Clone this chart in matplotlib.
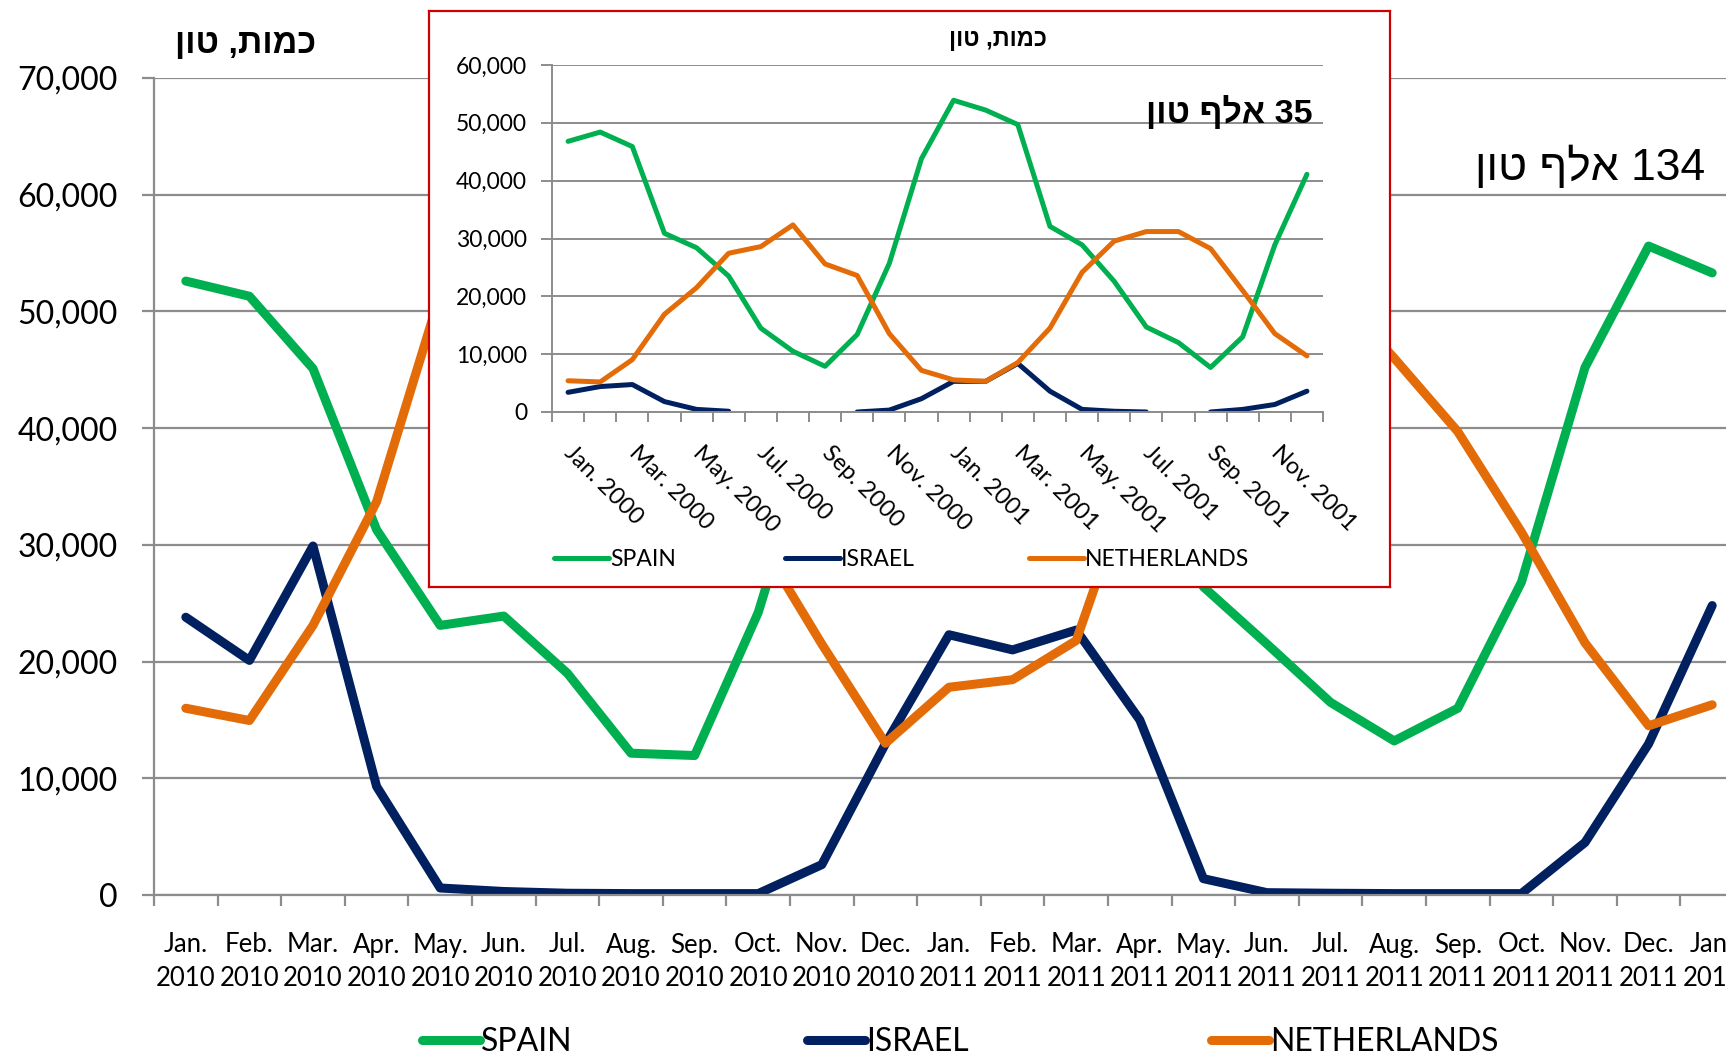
import numpy as np
import matplotlib
matplotlib.use("Agg")
import matplotlib.pyplot as plt
from matplotlib import font_manager
from matplotlib.ticker import StrMethodFormatter, FixedLocator

# ---------------- data ----------------
main_months = ["Jan.\n2010", "Feb.\n2010", "Mar.\n2010", "Apr.\n2010", "May.\n2010", "Jun.\n2010",
               "Jul.\n2010", "Aug.\n2010", "Sep.\n2010", "Oct.\n2010", "Nov.\n2010", "Dec.\n2010",
               "Jan.\n2011", "Feb.\n2011", "Mar.\n2011", "Apr.\n2011", "May.\n2011", "Jun.\n2011",
               "Jul.\n2011", "Aug.\n2011", "Sep.\n2011", "Oct.\n2011", "Nov.\n2011", "Dec.\n2011",
               "Jan.\n2012"]
main_spain = [52600, 51300, 45100, 31300, 23100, 23900, 19000, 12150, 11950, 24200, 42000, 54000,
              60000, 59000, 52000, 36000, 26400, 21500, 16500, 13200, 16000, 26800, 45200, 55600, 53300]
main_israel = [23800, 20100, 29900, 9300, 600, 300, 150, 120, 120, 120, 2600, 12950,
               22300, 21000, 22700, 15000, 1400, 200, 150, 120, 120, 120, 4500, 12950, 24800]
main_netherlands = [16000, 14950, 23100, 33700, 51500, 55000, 57000, 52000, 45000, 30500, 21500, 13000,
                    17800, 18450, 21800, 37500, 50000, 55000, 52000, 46000, 39700, 31100, 21600, 14500, 16300]

inset_months = ["Jan. 2000", "Feb. 2000", "Mar. 2000", "Apr. 2000", "May. 2000", "Jun. 2000",
                "Jul. 2000", "Aug. 2000", "Sep. 2000", "Oct. 2000", "Nov. 2000", "Dec. 2000",
                "Jan. 2001", "Feb. 2001", "Mar. 2001", "Apr. 2001", "May. 2001", "Jun. 2001",
                "Jul. 2001", "Aug. 2001", "Sep. 2001", "Oct. 2001", "Nov. 2001", "Dec. 2001"]
inset_spain = [46800, 48400, 45900, 30900, 28400, 23500, 14500, 10500, 7900, 13400, 25700, 43800,
               53900, 52200, 49700, 32100, 28900, 22600, 14700, 12000, 7700, 13000, 28900, 41100]
inset_israel = [3400, 4400, 4750, 1800, 450, 130, np.nan, np.nan, np.nan, 0, 330, 2300,
                5300, 5300, 8400, 3600, 450, 130, 0, np.nan, 0, 450, 1300, 3600]
inset_netherlands = [5400, 5200, 9050, 16900, 21500, 27450, 28600, 32350, 25600, 23600, 13550, 7200,
                     5550, 5300, 8550, 14500, 24150, 29550, 31200, 31200, 28250, 21000, 13550, 9700]

series_names = ["SPAIN", "ISRAEL", "NETHERLANDS"]
colors = ["#00B050", "#002060", "#E36C09"]

main_title = "ןוט ,תומכ"          # "כמות, טון" in visual order
main_note = "ןוט ףלא 134"         # "134 אלף טון"
inset_title = "ןוט ,תומכ"
inset_note = "ןוט ףלא 35"         # "35 אלף טון"

# ---------------- fonts ----------------
avail = {f.name for f in font_manager.fontManager.ttflist}
def pick(*names):
    for n in names:
        if n in avail:
            return n
    return "DejaVu Sans"
F_MAIN = pick("Lato", "Open Sans", "Liberation Sans")
F_NARROW = pick("Liberation Sans Narrow", "Lato", "Liberation Sans")
HEB = [pick("Liberation Sans", "DejaVu Sans"), "DejaVu Sans"]

W, H = 1726, 1055
fig = plt.figure(figsize=(W / 100, H / 100), dpi=100)
fig.patch.set_facecolor("white")

def fx(px):
    return px / W
def fy(py):
    return 1 - py / H

GRID = "#8C8C8C"

# ---------------- main axes ----------------
left, right, top, bottom = 154, 154 + 25 * 63.6, 78, 895
ax = fig.add_axes([fx(left), fy(bottom), fx(right - left), (bottom - top) / H], zorder=1)
x_main = np.arange(len(main_months))
for vals, c in zip([main_spain, main_israel, main_netherlands], colors):
    ax.plot(x_main, vals, color=c, lw=6.5, solid_joinstyle="round", solid_capstyle="round")
ax.set_xlim(-0.5, len(main_months) - 0.5)
ax.set_ylim(0, 70000)
ax.set_yticks(np.arange(0, 70001, 10000))
ax.yaxis.set_major_formatter(StrMethodFormatter("{x:,.0f}"))
ax.grid(axis="y", color=GRID, lw=1.6)
ax.set_axisbelow(True)
for s in ["top", "right"]:
    ax.spines[s].set_visible(False)
for s in ["left", "bottom"]:
    ax.spines[s].set_color(GRID)
    ax.spines[s].set_linewidth(1.6)
ax.xaxis.set_major_locator(FixedLocator(np.arange(-0.5, len(main_months), 1.0)))
ax.xaxis.set_minor_locator(FixedLocator(x_main))
ax.set_xticklabels([], minor=False)
ax.set_xticklabels(main_months, minor=True, fontfamily=F_MAIN, fontsize=18.5, linespacing=1.45)
ax.tick_params(axis="x", which="major", length=8, width=1.6, color=GRID)
ax.tick_params(axis="x", which="minor", length=0, pad=27)
ax.tick_params(axis="y", length=9, width=1.6, color=GRID, pad=17)
for t in ax.get_yticklabels():
    t.set_fontfamily(F_MAIN)
    t.set_fontsize(23)

fig.text(fx(175), fy(53), main_title, family=HEB, fontsize=24.5, fontweight="bold",
         ha="left", va="baseline")
fig.text(fx(1705), fy(180), main_note, family=HEB, fontsize=32, ha="right", va="baseline")

# main legends
main_lines = ax.get_lines()
for ln, name, xs in zip(main_lines, series_names, [422, 807, 1211]):
    lg = fig.legend([ln], [name], loc="center left", bbox_to_anchor=(fx(xs), fy(1042)),
                    frameon=False, borderpad=0, borderaxespad=0, handlelength=1.8,
                    handletextpad=0.05, prop={"family": F_NARROW, "size": 23})
    for h in lg.legend_handles:
        h.set_solid_capstyle("round")
        h.set_linewidth(6.5)

# ---------------- inset frame ----------------
fl, fr, ft, fb = 429, 1390, 11, 587
frame = fig.add_axes([fx(fl), fy(fb), fx(fr - fl), (fb - ft) / H], zorder=5)
frame.set_facecolor("white")
frame.set_xticks([])
frame.set_yticks([])
for s in frame.spines.values():
    s.set_color("#CC0000")
    s.set_linewidth(1.6)

# ---------------- inset axes ----------------
il, ir, it, ib = 552, 1323, 65, 412
ins = fig.add_axes([fx(il), fy(ib), fx(ir - il), (ib - it) / H], zorder=6)
ins.patch.set_alpha(0)
x_in = np.arange(len(inset_months))
for vals, c in zip([inset_spain, inset_israel, inset_netherlands], colors):
    ins.plot(x_in, vals, color=c, lw=3.6, solid_joinstyle="round", solid_capstyle="round")
ins.set_xlim(-0.5, len(inset_months) - 0.5)
ins.set_ylim(0, 60000)
ins.set_yticks(np.arange(0, 60001, 10000))
ins.yaxis.set_major_formatter(StrMethodFormatter("{x:,.0f}"))
ins.grid(axis="y", color=GRID, lw=1.4)
ins.set_axisbelow(True)
for s in ["top", "right"]:
    ins.spines[s].set_visible(False)
for s in ["left", "bottom"]:
    ins.spines[s].set_color(GRID)
    ins.spines[s].set_linewidth(1.4)
ins.xaxis.set_major_locator(FixedLocator(np.arange(-0.5, len(inset_months), 1.0)))
ins.xaxis.set_minor_locator(FixedLocator(x_in[::2]))
ins.set_xticklabels([], minor=False)
ins.set_xticklabels(inset_months[::2], minor=True, fontfamily=F_MAIN, fontsize=17,
                    rotation=-45, ha="left", va="center", rotation_mode="anchor")
ins.tick_params(axis="x", which="major", length=7, width=1.4, color=GRID)
ins.tick_params(axis="x", which="minor", length=0, pad=27)
ins.tick_params(axis="y", length=8, width=1.4, color=GRID, pad=10)
for t in ins.get_yticklabels():
    t.set_fontfamily(F_MAIN)
    t.set_fontsize(16.5)

fig.text(fx(998), fy(46), inset_title, family=HEB, fontsize=17, fontweight="bold",
         ha="center", va="baseline", zorder=7)
fig.text(fx(1313), fy(123), inset_note, family=HEB, fontsize=24.5, fontweight="bold",
         ha="right", va="baseline", zorder=7)

ins_lines = ins.get_lines()
for ln, name, xs in zip(ins_lines, series_names, [554, 785, 1029]):
    lg = fig.legend([ln], [name], loc="center left", bbox_to_anchor=(fx(xs), fy(560)),
                    frameon=False, borderpad=0, borderaxespad=0, handlelength=2.4,
                    handletextpad=0.05, prop={"family": F_MAIN, "size": 16.5})
    lg.set_zorder(8)
    for h in lg.legend_handles:
        h.set_solid_capstyle("round")
        h.set_linewidth(3.6)

fig.savefig("out.png", dpi=100, facecolor="white")
